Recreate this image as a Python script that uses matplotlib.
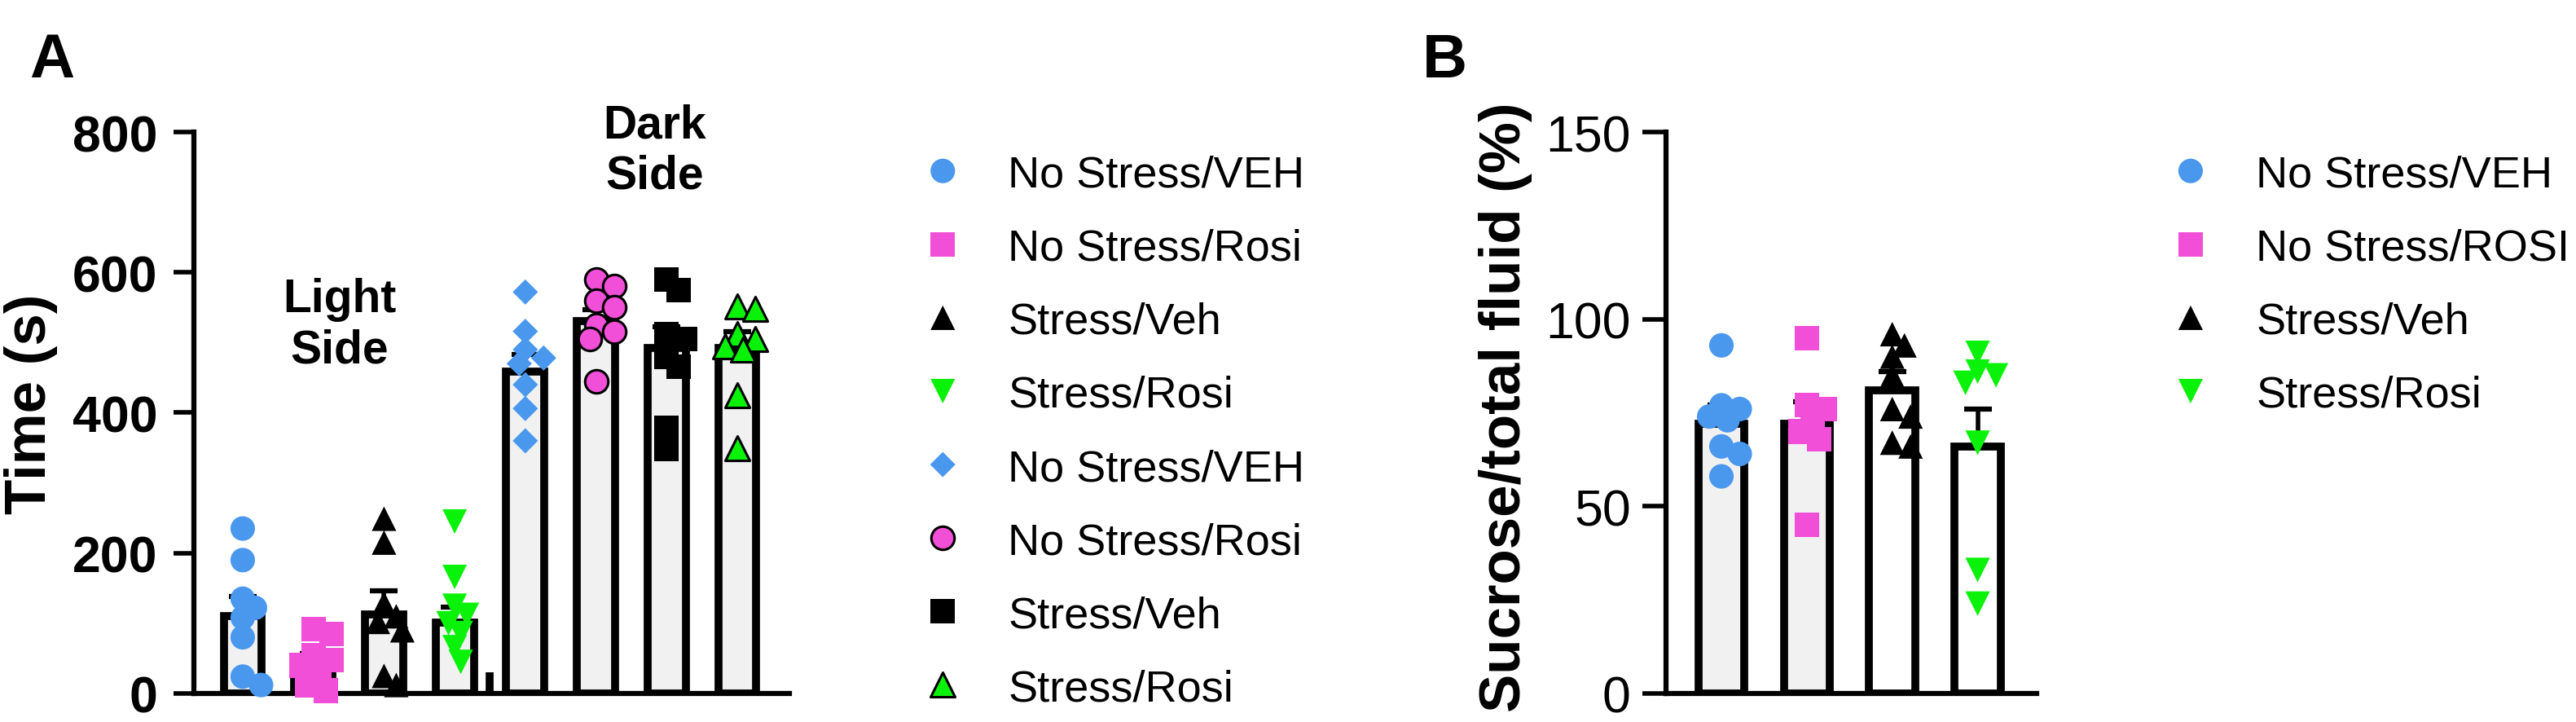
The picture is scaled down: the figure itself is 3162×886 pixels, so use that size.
import numpy as np
import matplotlib
matplotlib.use('Agg')
import matplotlib.pyplot as plt

plt.rcParams['font.family'] = ['Liberation Sans', 'DejaVu Sans']

# panel A: time spent on each side of the light/dark box
labels_a = ['No Stress/VEH', 'No Stress/Rosi', 'Stress/Veh', 'Stress/Rosi']
light_means = [110, 45, 113, 101]
light_sem = [28, 12, 33, 22]
dark_means = [459, 531, 492, 492]
dark_sem = [24, 16, 30, 24]

light_pts = [
    [235, 190, 135, 122, 108, 80, 24, 12],
    [92, 85, 55, 48, 40, 30, 12, 4],
    [249, 215, 128, 110, 102, 90, 25, 12],
    [245, 166, 125, 112, 100, 86, 66, 45],
]
dark_pts = [
    [572, 516, 490, 478, 470, 440, 406, 360],
    [590, 580, 560, 550, 525, 515, 505, 445],
    [590, 575, 512, 505, 480, 466, 378, 348],
    [552, 548, 512, 505, 495, 490, 425, 350],
]

# panel B: sucrose preference
labels_b = ['No Stress/VEH', 'No Stress/ROSI', 'Stress/Veh', 'Stress/Rosi']
sucrose_means = [72, 72, 81, 66]
sucrose_sem = [5, 6, 5, 10]
sucrose_pts = [
    [93, 77, 76, 74, 73, 66, 64, 58],
    [95, 77, 76, 73, 70, 68, 45],
    [96, 93, 90, 85, 76, 74, 67, 66],
    [91, 86, 85, 83, 67, 33, 24],
]

blue = '#4a98ee'
pink = '#f24fd8'
green = '#0af20a'
bar_fill = '#f1f1f1'

# marker styles: (marker, colour, edge colour, size)
light_style = [('o', blue, 'none', 470), ('s', pink, 'none', 470),
               ('^', 'black', 'none', 470), ('v', green, 'none', 470)]
dark_style = [('D', blue, 'none', 250), ('o', pink, 'black', 420),
              ('s', 'black', 'none', 470), ('^', green, 'black', 470)]
sucrose_style = light_style

fig = plt.figure(figsize=(31.62, 8.87), dpi=100)
ax_a = fig.add_axes([0.0753, 0.0395, 0.2312, 0.7767])
ax_b = fig.add_axes([0.6467, 0.0395, 0.1439, 0.7767])

ax_a.set_xlim(-0.69, 7.74)
ax_a.set_ylim(0, 800)
ax_b.set_xlim(-0.65, 3.69)
ax_b.set_ylim(0, 150)


def swarm(ax, x0, vals, diam=30.0, step=0.25, overlap=0.62):
    # spread points sideways around the bar centre until they stop overlapping
    p0 = ax.transData.transform((0, 0))
    sx = ax.transData.transform((1, 0))[0] - p0[0]
    sy = ax.transData.transform((0, 1))[1] - p0[1]
    placed = []
    xs = []
    for v in vals:
        y = v * sy
        k = 0
        found = None
        while found is None:
            cands = [0.0] if k == 0 else [k * step * diam, -k * step * diam]
            for c in cands:
                if all((c - px) ** 2 + (y - py) ** 2 >= (overlap * diam) ** 2 for px, py in placed):
                    found = c
                    break
            k += 1
        placed.append((found, y))
        xs.append(x0 + found / sx)
    return xs


def draw_group(ax, x, mean, sem, pts, style, fill):
    ax.bar(x, mean, width=0.54, color=fill, edgecolor='black', linewidth=7, zorder=1)
    ax.errorbar(x, mean, yerr=[[0], [sem]], fmt='none', ecolor='black',
                elinewidth=4, capsize=12, capthick=4.5, zorder=2)
    m, c, ec, s = style
    xs = swarm(ax, x, pts)
    return ax.scatter(xs, pts, marker=m, s=s, color=c, edgecolors=ec,
                      linewidths=2.2 if ec != 'none' else 0, zorder=3, clip_on=False)


handles_a = []
for i in range(4):
    handles_a.append(draw_group(ax_a, i, light_means[i], light_sem[i], light_pts[i], light_style[i], bar_fill))
for i in range(4):
    handles_a.append(draw_group(ax_a, 4 + i, dark_means[i], dark_sem[i], dark_pts[i], dark_style[i], bar_fill))

# little stub between the two sides, as in the original figure
ax_a.vlines(3.5, 0, 30, color='black', linewidth=7, zorder=1)

handles_b = []
fills_b = [bar_fill, bar_fill, 'white', 'white']
for i in range(4):
    handles_b.append(draw_group(ax_b, i, sucrose_means[i], sucrose_sem[i], sucrose_pts[i], sucrose_style[i], fills_b[i]))

ax_a.text(1.37, 526, 'Light\nSide', ha='center', va='center', fontsize=41, fontweight='bold')
ax_a.text(5.83, 774, 'Dark\nSide', ha='center', va='center', fontsize=41, fontweight='bold')

for ax in (ax_a, ax_b):
    ax.spines['top'].set_visible(False)
    ax.spines['right'].set_visible(False)
    ax.spines['left'].set_linewidth(4.5)
    ax.spines['bottom'].set_linewidth(4.5)
    ax.set_xticks([])

ax_a.tick_params(axis='y', length=18, width=4, pad=14)
ax_b.tick_params(axis='y', length=21, width=4, pad=10)

ax_a.set_yticks([0, 200, 400, 600, 800])
for t in ax_a.get_yticklabels():
    t.set_fontsize(45)
    t.set_fontweight('bold')
ax_b.set_yticks([0, 50, 100, 150])
for t in ax_b.get_yticklabels():
    t.set_fontsize(45)

fig.text(38 / 3162, 1 - 496 / 887, 'Time (s)', rotation=90, ha='center', va='center',
         fontsize=51, fontweight='bold')
fig.text(1848 / 3162, 1 - 500 / 887, 'Sucrose/total fluid (%)', rotation=90, ha='center',
         va='center', fontsize=51, fontweight='bold')

leg_kw = dict(loc='upper left', bbox_transform=fig.transFigure, frameon=False, fontsize=39,
              handlelength=1.4, handletextpad=0.78, labelspacing=0.74, borderpad=0,
              borderaxespad=0, scatterpoints=1, scatteryoffsets=[0.5])
ax_a.legend(handles_a, labels_a + labels_a, bbox_to_anchor=(0.3540, 0.7850), **leg_kw)
ax_b.legend(handles_b, labels_b, bbox_to_anchor=(0.8384, 0.7850), **leg_kw)

fig.text(36 / 3162, 1 - 95 / 887, 'A', fontsize=55, fontweight='bold', va='baseline')
fig.text(1746 / 3162, 1 - 95 / 887, 'B', fontsize=55, fontweight='bold', va='baseline')

fig.savefig('out.png', dpi=100)
